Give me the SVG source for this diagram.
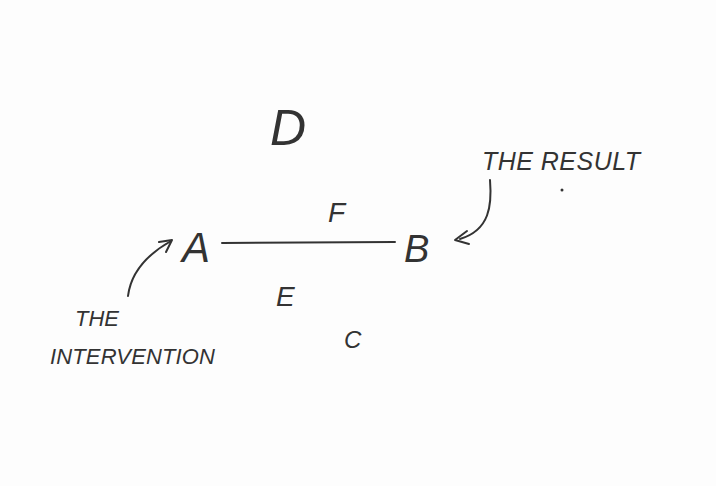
<svg xmlns="http://www.w3.org/2000/svg" width="716" height="486" viewBox="0 0 716 486">
<style>
.t{font-family:"Liberation Sans","DejaVu Sans",sans-serif;fill:#333;font-style:italic}
.s{fill:none;stroke:#333;stroke-width:2;stroke-linecap:round;stroke-linejoin:round}
</style>
<rect width="716" height="486" fill="#fdfdfd"/>
<g id="connectors">
<path class="s" d="M222 243 L395 242"/>
<path class="s" d="M128 296 C131 272 148 254 171 241"/>
<path class="s" d="M159 242 L172 240 L166 252"/>
<path class="s" d="M490 180 C492 205 490 230 460 239"/>
<path class="s" d="M467 231 L455 240 L469 244"/>
</g>
<g id="node-A"><text class="t" x="182" y="262" font-size="42">A</text></g>
<g id="node-B"><text class="t" x="404" y="262" font-size="38">B</text></g>
<g id="node-D"><text class="t" x="270" y="145" font-size="50">D</text></g>
<g id="node-F"><text class="t" x="328" y="222" font-size="28">F</text></g>
<g id="node-E"><text class="t" x="276" y="306" font-size="28">E</text></g>
<g id="node-C"><text class="t" x="344" y="348" font-size="24">C</text></g>
<g id="label-result"><text class="t" x="482" y="170" font-size="25" textLength="158">THE RESULT</text></g>
<g id="label-intervention">
<text class="t" x="75" y="326" font-size="22">THE</text>
<text class="t" x="50" y="364" font-size="22" textLength="165">INTERVENTION</text>
</g>
<circle cx="562" cy="190" r="1.5" fill="#333"/>
</svg>
